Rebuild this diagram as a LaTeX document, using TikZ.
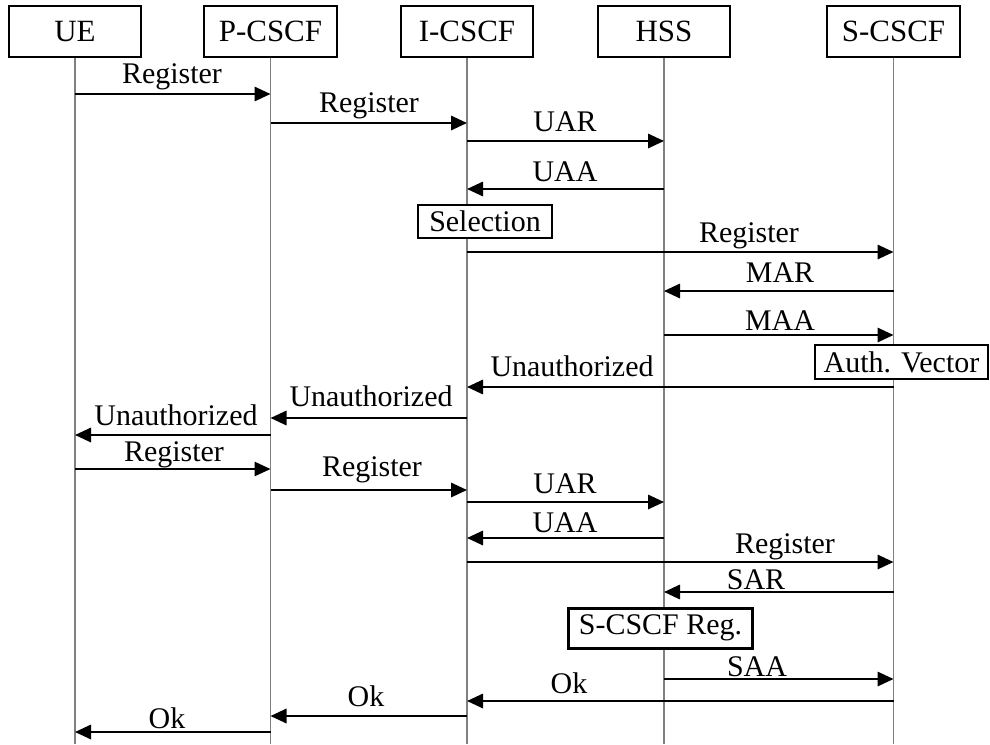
\documentclass[tikz,border=0pt]{standalone}
\usepackage{fontspec}
\setmainfont{Liberation Serif}
\usetikzlibrary{arrows.meta}

\begin{document}
\begin{tikzpicture}[x=0.025cm, y=-0.025cm,
  font=\fontsize{21.3}{25}\selectfont,
  entity/.style={draw, line width=0.05cm, minimum width=3.3cm, minimum height=1.275cm, inner sep=0pt, font=\fontsize{22}{26}\selectfont},
  lifeline/.style={draw=gray, line width=0.03cm},
  msg/.style={-{Triangle[length=0.4cm, width=0.36cm]}, line width=0.05cm},
  msgtext/.style={anchor=base, inner sep=0pt},
  action/.style={draw, fill=white, line width=0.05cm, inner sep=0pt}]

\useasboundingbox (0,0) rectangle (990,744);

\node[entity] (UE) at (75,31.5) {UE};
\node[entity] (P-CSCF) at (270.5,31.5) {P-CSCF};
\node[entity] (I-CSCF) at (467,31.5) {I-CSCF};
\node[entity] (HSS) at (664,31.5) {HSS};
\node[entity] (S-CSCF) at (893.5,31.5) {S-CSCF};

\coordinate (UE end) at (75,744);
\coordinate (P-CSCF end) at (270.5,744);
\coordinate (I-CSCF end) at (467,744);
\coordinate (HSS end) at (664,744);
\coordinate (S-CSCF end) at (893.5,744);

\draw[lifeline] (UE) -- (UE end);
\draw[lifeline] (P-CSCF) -- (P-CSCF end);
\draw[lifeline] (I-CSCF) -- (I-CSCF end);
\draw[lifeline] (HSS) -- (HSS end);
\draw[lifeline] (S-CSCF) -- (S-CSCF end);

% first registration
\draw[msg] (UE |- 0,94) -- (P-CSCF |- 0,94);
\node[msgtext] (Register 1) at (172,83) {Register};
\draw[msg] (P-CSCF |- 0,123) -- (I-CSCF |- 0,123);
\node[msgtext] (Register 2) at (369,112) {Register};
\draw[msg] (I-CSCF |- 0,141) -- (HSS |- 0,141);
\node[msgtext] (UAR 1) at (565,131) {UAR};
\draw[msg] (HSS |- 0,189) -- (I-CSCF |- 0,189);
\node[msgtext] (UAA 1) at (565,181) {UAA};
\node[action, minimum width=3.35cm, minimum height=0.825cm] (Selection) at (485,221.5) {Selection};
\draw[msg] (I-CSCF |- 0,252) -- (S-CSCF |- 0,252);
\node[msgtext] (Register 3) at (749,242) {Register};
\draw[msg] (S-CSCF |- 0,291) -- (HSS |- 0,291);
\node[msgtext] (MAR) at (780,282) {MAR};
\draw[msg] (HSS |- 0,335) -- (S-CSCF |- 0,335);
\node[msgtext] (MAA) at (780,330) {MAA};
\node[action, minimum width=4.3cm, minimum height=0.85cm] (Auth Vector) at (901.5,362) {Auth. Vector};
\draw[msg] (S-CSCF |- 0,387) -- (I-CSCF |- 0,387);
\node[msgtext] (Unauthorized 1) at (572,376) {Unauthorized};
\draw[msg] (I-CSCF |- 0,418) -- (P-CSCF |- 0,418);
\node[msgtext] (Unauthorized 2) at (371,406) {Unauthorized};
\draw[msg] (P-CSCF |- 0,435) -- (UE |- 0,435);
\node[msgtext] (Unauthorized 3) at (176,425) {Unauthorized};

% second registration
\draw[msg, line width=0.035cm] (UE |- 0,469) -- (P-CSCF |- 0,469);
\node[msgtext] (Register 4) at (174,461) {Register};
\draw[msg] (P-CSCF |- 0,490) -- (I-CSCF |- 0,490);
\node[msgtext] (Register 5) at (372,476) {Register};
\draw[msg] (I-CSCF |- 0,502) -- (HSS |- 0,502);
\node[msgtext] (UAR 2) at (565,493) {UAR};
\draw[msg] (HSS |- 0,538) -- (I-CSCF |- 0,538);
\node[msgtext] (UAA 2) at (565,532) {UAA};
\draw[msg] (I-CSCF |- 0,562) -- (S-CSCF |- 0,562);
\node[msgtext] (Register 6) at (785,553) {Register};
\draw[msg] (S-CSCF |- 0,592) -- (HSS |- 0,592);
\node[msgtext] (SAR) at (756,589) {SAR};
\node[action, line width=0.075cm, minimum width=4.575cm, minimum height=1cm] (SCSCF Reg) at (660.5,628) {S-CSCF Reg.};
\draw[msg] (HSS |- 0,679) -- (S-CSCF |- 0,679);
\node[msgtext] (SAA) at (757,676) {SAA};
\draw[msg] (S-CSCF |- 0,701) -- (I-CSCF |- 0,701);
\node[msgtext] (Ok 1) at (569,693) {Ok};
\draw[msg] (I-CSCF |- 0,716) -- (P-CSCF |- 0,716);
\node[msgtext] (Ok 2) at (366,706) {Ok};
\draw[msg] (P-CSCF |- 0,732) -- (UE |- 0,732);
\node[msgtext] (Ok 3) at (167,728) {Ok};
\end{tikzpicture}
\end{document}
